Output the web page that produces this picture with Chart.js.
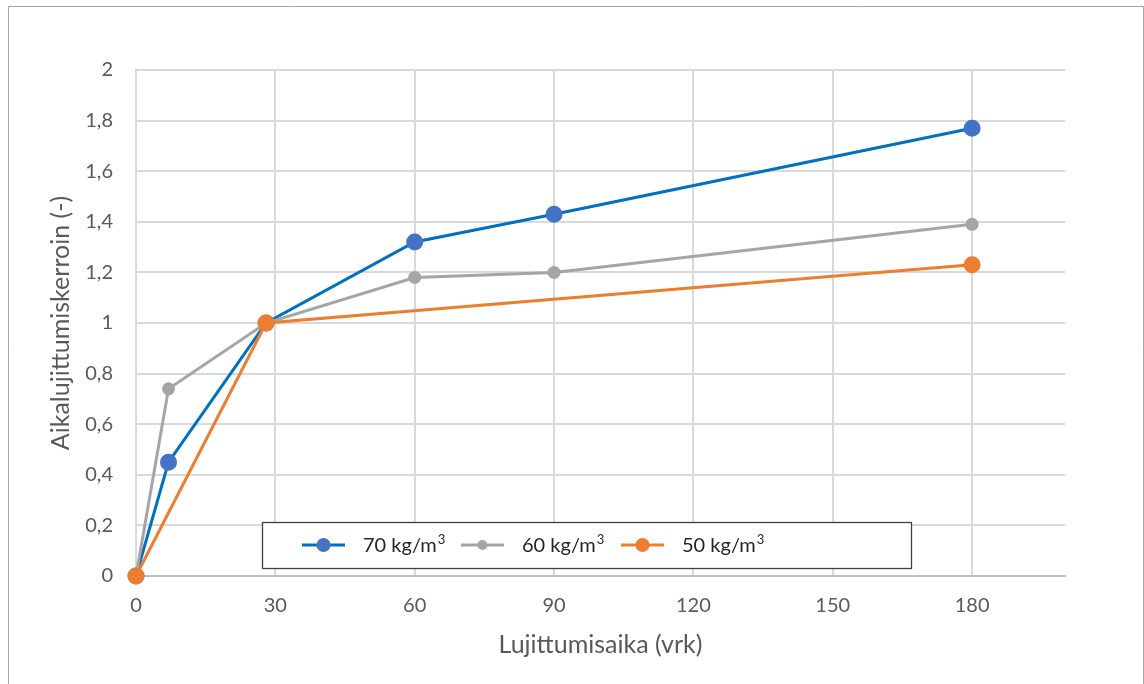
<!DOCTYPE html>
<html>
<head>
<meta charset="utf-8">
<style>
  html, body { margin: 0; padding: 0; background: #ffffff; }
  #wrap { position: relative; width: 1144px; height: 684px; }
</style>
<script src="https://cdn.jsdelivr.net/npm/chart.js@4.4.1/dist/chart.umd.min.js"></script>
</head>
<body>
<div id="wrap"><canvas id="c" width="1144" height="684"></canvas></div>
<script>
// Curing time (days) and strength development factor per binder content
const days70 = [0, 7, 28, 60, 90, 180];
const factor70 = [0, 0.45, 1, 1.32, 1.43, 1.77];
const days60 = [0, 7, 28, 60, 90, 180];
const factor60 = [0, 0.74, 1, 1.18, 1.2, 1.39];
const days50 = [0, 28, 180];
const factor50 = [0, 1, 1.23];

const seriesLabels = ['70 kg/m³', '60 kg/m³', '50 kg/m³'];
const xTicks = [0, 30, 60, 90, 120, 150, 180];
const yTicks = [0, 0.2, 0.4, 0.6, 0.8, 1, 1.2, 1.4, 1.6, 1.8, 2];
const xTitle = 'Lujittumisaika (vrk)';
const yTitle = 'Aikalujittumiskerroin (-)';

const FONT = 'Lato, "Open Sans", "Liberation Sans", sans-serif';

const toPoints = (xs, ys) => xs.map((x, i) => ({ x: x, y: ys[i] }));

const styles = [
  { line: '#0070C0', fill: '#4472C4', r: 7 },
  { line: '#A5A5A5', fill: '#A5A5A5', r: 5 },
  { line: '#ED7D31', fill: '#ED7D31', r: 7 }
];

// Outer frame and white background
const framePlugin = {
  id: 'frame',
  beforeDraw(chart) {
    const ctx = chart.ctx;
    ctx.save();
    ctx.fillStyle = '#ffffff';
    ctx.fillRect(0, 0, chart.width, chart.height);
    ctx.strokeStyle = '#a6a6a6';
    ctx.lineWidth = 1;
    ctx.beginPath();
    ctx.moveTo(8.5, chart.height + 2);
    ctx.lineTo(8.5, 6.5);
    ctx.lineTo(1143.5, 6.5);
    ctx.lineTo(1143.5, chart.height + 2);
    ctx.stroke();
    ctx.restore();
  }
};

// Boxed legend inside the plot area; a trailing ³ is drawn as a raised small digit
const legendBoxPlugin = {
  id: 'legendBox',
  afterDatasetsDraw(chart) {
    const ctx = chart.ctx;
    const box = { x: 262, y: 522, w: 649, h: 46 };
    ctx.save();
    ctx.fillStyle = '#ffffff';
    ctx.fillRect(box.x, box.y, box.w, box.h);
    ctx.strokeStyle = '#404040';
    ctx.lineWidth = 1.3;
    ctx.strokeRect(box.x + 0.5, box.y + 0.5, box.w, box.h);
    const cy = box.y + 23;
    const starts = [302, 461, 621];
    ctx.textBaseline = 'alphabetic';
    ctx.textAlign = 'left';
    chart.data.datasets.forEach((ds, i) => {
      const s = styles[i];
      const x0 = starts[i];
      ctx.strokeStyle = s.line;
      ctx.lineWidth = 3;
      ctx.beginPath();
      ctx.moveTo(x0, cy);
      ctx.lineTo(x0 + 43, cy);
      ctx.stroke();
      ctx.fillStyle = s.fill;
      ctx.beginPath();
      ctx.arc(x0 + 21.5, cy, s.r, 0, Math.PI * 2);
      ctx.fill();
      ctx.fillStyle = '#262626';
      const base = ds.label.endsWith('³') ? ds.label.slice(0, -1) : ds.label;
      const baseline = cy + 7;
      ctx.font = '20px ' + FONT;
      ctx.fillText(base, x0 + 61, baseline);
      if (base !== ds.label) {
        const w = ctx.measureText(base).width;
        ctx.font = '13px ' + FONT;
        ctx.fillText('3', x0 + 62 + w, baseline - 8);
      }
    });
    ctx.restore();
  }
};

const datasets = [
  { label: seriesLabels[0], data: toPoints(days70, factor70), order: 3 },
  { label: seriesLabels[1], data: toPoints(days60, factor60), order: 2 },
  { label: seriesLabels[2], data: toPoints(days50, factor50), order: 1 }
].map((d, i) => Object.assign(d, {
  borderColor: styles[i].line,
  backgroundColor: styles[i].fill,
  pointBackgroundColor: styles[i].fill,
  pointBorderColor: styles[i].fill,
  pointRadius: styles[i].r,
  pointHoverRadius: styles[i].r,
  borderWidth: 3,
  tension: 0,
  showLine: true,
  clip: false
}));

new Chart(document.getElementById('c'), {
  type: 'scatter',
  data: { datasets: datasets },
  options: {
    responsive: false,
    animation: false,
    devicePixelRatio: 1,
    layout: { padding: { top: 70, right: 79, left: 46, bottom: 24 } },
    plugins: {
      legend: { display: false },
      tooltip: { enabled: false }
    },
    scales: {
      x: {
        type: 'linear',
        min: 0,
        max: 200,
        afterBuildTicks(scale) { scale.ticks = xTicks.map(v => ({ value: v })); },
        afterFit(scale) { scale.height = 84; },
        grid: { color: '#d9d9d9', lineWidth: 2, drawTicks: false },
        border: { display: true, color: '#bfbfbf', width: 2 },
        ticks: {
          color: '#595959',
          font: { family: FONT, size: 20 },
          padding: 18,
          maxRotation: 0,
          autoSkip: false
        },
        title: {
          display: true,
          text: xTitle,
          color: '#595959',
          font: { family: FONT, size: 25 },
          padding: { top: 4, bottom: 0 }
        }
      },
      y: {
        type: 'linear',
        min: 0,
        max: 2,
        afterBuildTicks(scale) { scale.ticks = yTicks.map(v => ({ value: v })); },
        afterFit(scale) { scale.width = 90; },
        grid: { color: '#d9d9d9', lineWidth: 2, drawTicks: false },
        border: { display: true, color: '#d9d9d9', width: 2 },
        ticks: {
          color: '#595959',
          font: { family: FONT, size: 20 },
          padding: 23,
          callback: v => String(Math.round(v * 10) / 10).replace('.', ',')
        },
        title: {
          display: true,
          text: yTitle,
          color: '#595959',
          font: { family: FONT, size: 25 },
          padding: { top: 0, bottom: 0 }
        }
      }
    }
  },
  plugins: [framePlugin, legendBoxPlugin]
});
</script>
</body>
</html>
